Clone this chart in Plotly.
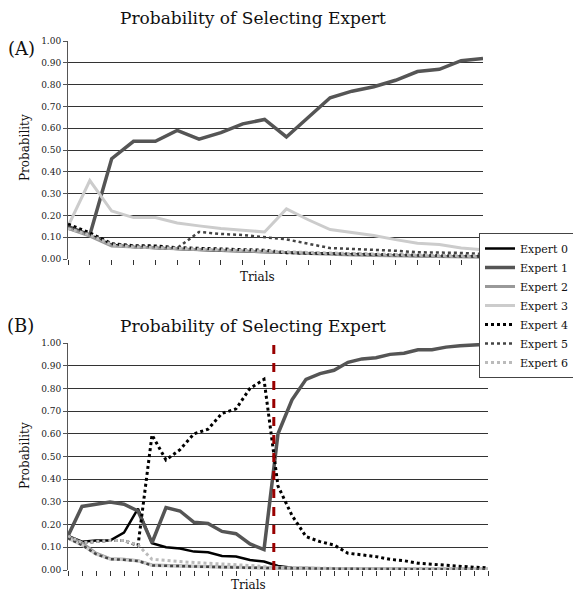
import plotly.graph_objects as go

# ---------------- data ----------------
experts = ["Expert 0", "Expert 1", "Expert 2", "Expert 3", "Expert 4", "Expert 5", "Expert 6"]
trials_a = list(range(20))
trials_b = list(range(31))

a_e0 = [0.14, 0.11, 0.065, 0.055, 0.05, 0.045, 0.04, 0.038, 0.035, 0.032, 0.028, 0.025, 0.022, 0.02, 0.018, 0.016, 0.014, 0.012, 0.011, 0.01]
a_e1 = [0.15, 0.11, 0.46, 0.54, 0.54, 0.59, 0.55, 0.58, 0.62, 0.64, 0.56, 0.65, 0.74, 0.77, 0.79, 0.82, 0.86, 0.87, 0.91, 0.92]
a_e2 = [0.14, 0.105, 0.06, 0.055, 0.05, 0.045, 0.042, 0.04, 0.037, 0.035, 0.03, 0.025, 0.02, 0.018, 0.016, 0.014, 0.012, 0.011, 0.01, 0.008]
a_e3 = [0.15, 0.36, 0.22, 0.19, 0.19, 0.165, 0.152, 0.14, 0.132, 0.124, 0.23, 0.18, 0.135, 0.123, 0.108, 0.089, 0.072, 0.066, 0.05, 0.042]
a_e4 = [0.16, 0.12, 0.07, 0.061, 0.06, 0.052, 0.049, 0.047, 0.044, 0.04, 0.029, 0.028, 0.025, 0.023, 0.021, 0.019, 0.017, 0.015, 0.013, 0.012]
a_e5 = [0.15, 0.11, 0.07, 0.06, 0.055, 0.05, 0.124, 0.115, 0.11, 0.10, 0.09, 0.07, 0.05, 0.046, 0.043, 0.038, 0.031, 0.031, 0.028, 0.023]
a_e6 = [0.14, 0.11, 0.065, 0.055, 0.052, 0.048, 0.045, 0.042, 0.04, 0.038, 0.033, 0.03, 0.027, 0.024, 0.022, 0.02, 0.018, 0.016, 0.015, 0.013]

b_e0 = [0.15, 0.125, 0.13, 0.13, 0.165, 0.27, 0.118, 0.10, 0.095, 0.081, 0.078, 0.062, 0.059, 0.044, 0.037, 0.018, 0.01, 0.01, 0.008, 0.007, 0.006, 0.006, 0.005, 0.005, 0.004, 0.004, 0.003, 0.003, 0.003, 0.002, 0.002]
b_e1 = [0.15, 0.28, 0.29, 0.30, 0.29, 0.26, 0.12, 0.275, 0.26, 0.21, 0.205, 0.17, 0.16, 0.115, 0.09, 0.60, 0.75, 0.84, 0.865, 0.88, 0.915, 0.93, 0.935, 0.95, 0.955, 0.97, 0.97, 0.982, 0.988, 0.993, 0.995]
b_e2 = [0.147, 0.12, 0.074, 0.05, 0.047, 0.041, 0.022, 0.019, 0.018, 0.016, 0.015, 0.013, 0.012, 0.01, 0.009, 0.008, 0.007, 0.007, 0.007, 0.007, 0.007, 0.007, 0.007, 0.007, 0.005, 0.005, 0.005, 0.004, 0.004, 0.004, 0.004]
b_e3 = [0.14, 0.11, 0.07, 0.048, 0.045, 0.04, 0.02, 0.018, 0.016, 0.014, 0.013, 0.012, 0.011, 0.01, 0.009, 0.008, 0.007, 0.006, 0.006, 0.005, 0.005, 0.005, 0.004, 0.004, 0.004, 0.004, 0.003, 0.003, 0.003, 0.003, 0.003]
b_e4 = [0.15, 0.12, 0.125, 0.13, 0.13, 0.107, 0.595, 0.485, 0.53, 0.60, 0.62, 0.69, 0.71, 0.80, 0.84, 0.37, 0.24, 0.147, 0.125, 0.11, 0.074, 0.066, 0.059, 0.047, 0.041, 0.03, 0.025, 0.019, 0.015, 0.012, 0.01]
b_e5 = [0.14, 0.11, 0.07, 0.048, 0.045, 0.04, 0.02, 0.018, 0.016, 0.014, 0.013, 0.012, 0.011, 0.01, 0.009, 0.008, 0.007, 0.006, 0.006, 0.005, 0.005, 0.005, 0.004, 0.004, 0.004, 0.004, 0.003, 0.003, 0.003, 0.003, 0.003]
b_e6 = [0.15, 0.12, 0.125, 0.13, 0.13, 0.11, 0.047, 0.041, 0.037, 0.033, 0.03, 0.027, 0.025, 0.02, 0.015, 0.01, 0.008, 0.008, 0.007, 0.007, 0.006, 0.006, 0.006, 0.005, 0.005, 0.005, 0.005, 0.004, 0.004, 0.004, 0.004]

change_point_b = 14.7
y_tick_vals = [0.0, 0.1, 0.2, 0.3, 0.4, 0.5, 0.6, 0.7, 0.8, 0.9, 1.0]
y_tick_text = ["0.00", "0.10", "0.20", "0.30", "0.40", "0.50", "0.60", "0.70", "0.80", "0.90", "1.00"]
title_text = "Probability of Selecting Expert"

# ---------------- styles ----------------
FONT = "DejaVu Serif"
styles = [
    dict(color="#000000", width=2.5, dash="solid"),
    dict(color="#555555", width=3.5, dash="solid"),
    dict(color="#999999", width=3.0, dash="solid"),
    dict(color="#cccccc", width=3.0, dash="solid"),
    dict(color="#000000", width=3.0, dash="dot"),
    dict(color="#444444", width=2.5, dash="dot"),
    dict(color="#bbbbbb", width=3.0, dash="dot"),
]

series_a = [a_e0, a_e1, a_e2, a_e3, a_e4, a_e5, a_e6]
series_b = [b_e0, b_e1, b_e2, b_e3, b_e4, b_e5, b_e6]

fig = go.Figure()
for i, (name, ys) in enumerate(zip(experts, series_a)):
    fig.add_trace(go.Scatter(x=trials_a, y=ys, mode="lines", name=name, line=styles[i],
                             xaxis="x", yaxis="y", showlegend=True, legendgroup=name))
for i, (name, ys) in enumerate(zip(experts, series_b)):
    fig.add_trace(go.Scatter(x=trials_b, y=ys, mode="lines", name=name, line=styles[i],
                             xaxis="x2", yaxis="y2", showlegend=False, legendgroup=name))

# page body has an 8px margin: figure is offset by 8px inside the 581x599 window
OFF = 8
W, H = 581 - OFF, 599 - OFF
def px(x):
    return (x - OFF) / W
def py(y):
    return 1 - (y - OFF) / H

xcommon = dict(showgrid=False, zeroline=False, showline=False, ticks="outside", ticklen=5,
               tickcolor="#333333", tickwidth=1, dtick=1, showticklabels=False)
ycommon = dict(range=[0, 1.0001], tickvals=y_tick_vals, ticktext=y_tick_text, showgrid=True,
               gridcolor="#333333", gridwidth=1, zeroline=False, showline=True, linecolor="#555555",
               linewidth=1, ticks="outside", ticklen=4, tickcolor="#555555",
               tickfont=dict(family=FONT, size=9, color="#222222"))

fig.update_layout(
    width=W, height=H,
    margin=dict(l=0, r=0, t=0, b=0, autoexpand=False),
    paper_bgcolor="white", plot_bgcolor="white",
    font=dict(family=FONT, color="#111111"),
    xaxis=dict(domain=[px(68), px(483)], range=[0, 19], anchor="y", **xcommon),
    yaxis=dict(domain=[py(259), py(41)], anchor="x", **ycommon),
    xaxis2=dict(domain=[px(68), px(488)], range=[0, 30], anchor="y2", **xcommon),
    yaxis2=dict(domain=[py(570), py(343)], anchor="x2", **ycommon),
    legend=dict(x=px(479), y=py(233), xanchor="left", yanchor="top",
                bordercolor="#444444", borderwidth=1, bgcolor="white",
                font=dict(family=FONT, size=11, color="#111111"),
                tracegroupgap=0, itemwidth=30),
    showlegend=True,
)

def label(text, x, y, size, angle=0):
    return dict(text=text, x=px(x), y=py(y), xref="paper", yref="paper", xanchor="center",
                yanchor="middle", showarrow=False, textangle=angle,
                font=dict(family=FONT, size=size, color="#111111"))

ann = [
    label(title_text, 253, 18, 17),
    label(title_text, 253, 326, 17),
    label("(A)", 21, 48, 18),
    label("(B)", 20, 326, 18),
    label("Trials", 257, 277, 12),
    label("Trials", 248, 585, 12),
    label("Probability", 25, 148, 12, -90),
    label("Probability", 25, 456, 12, -90),
]
fig.update_layout(annotations=ann)

fig.add_shape(type="line", xref="x2", yref="y2", x0=change_point_b, x1=change_point_b, y0=0, y1=1,
              line=dict(color="#990000", width=3, dash="dash"), layer="above")

fig.write_html("out.html")
